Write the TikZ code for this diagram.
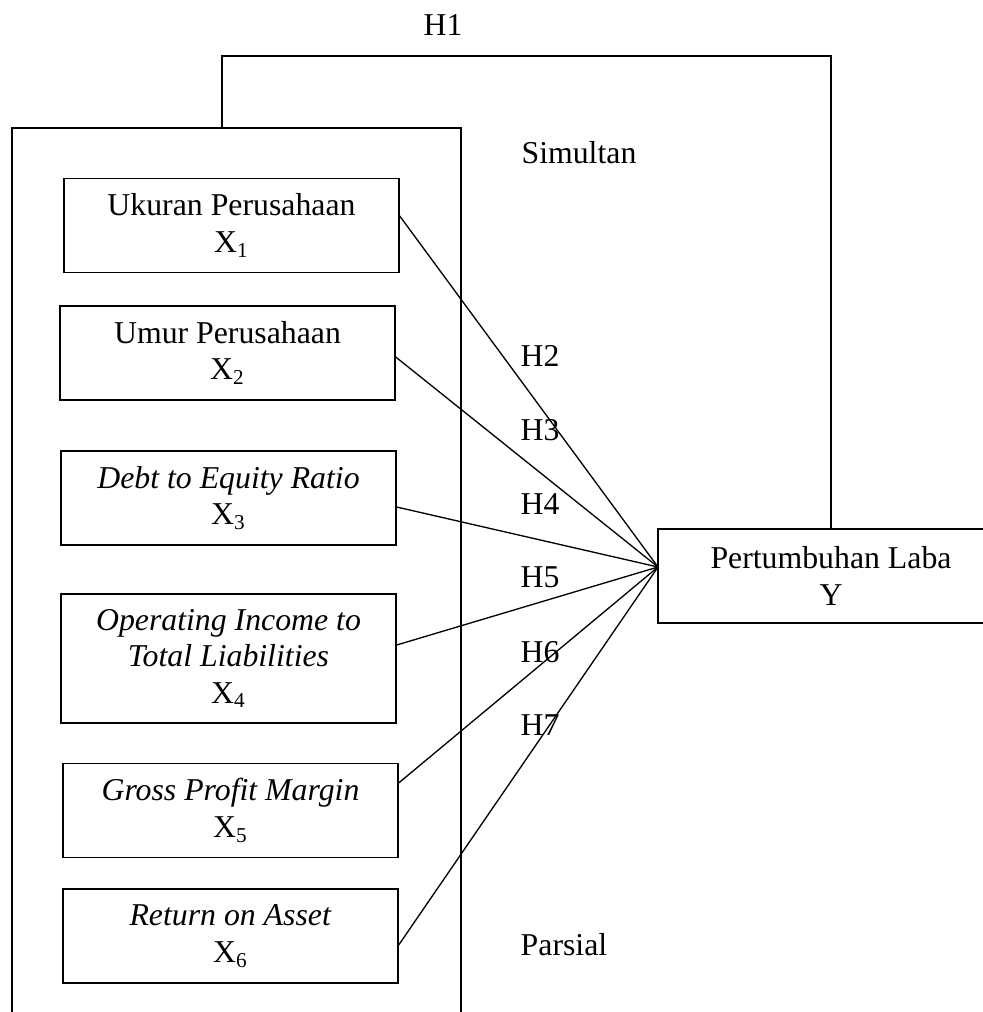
\documentclass[tikz,border=0pt]{standalone}
\usepackage{fontspec}
\setmainfont{Liberation Serif}
\usepackage{tikz}

\begin{document}
\begin{tikzpicture}[x=0.3775pt, y=-0.3775pt, line width=0.5pt,
    font=\fontsize{12}{13.8}\selectfont,
    varbox/.style={draw, align=center, inner sep=0pt, minimum width=126.5pt, minimum height=35.5pt}]

\useasboundingbox (0,0) rectangle (983,1012);

% outer frame, open at the bottom
\coordinate (fbl) at (12,1012);
\coordinate (ftl) at (12,128);
\coordinate (ftr) at (461,128);
\coordinate (fbr) at (461,1012);
\draw (fbl) -- (ftl) -- (ftr) -- (fbr);

\node [varbox] (x1) at (231.5,225.5) {Ukuran Perusahaan\\X\textsubscript{1}};
\node [varbox] (x2) at (227.5,353) {Umur Perusahaan\\X\textsubscript{2}};
\node [varbox] (x3) at (228.5,498) {\textit{Debt to Equity Ratio}\\X\textsubscript{3}};
\node [varbox, minimum height=48.7pt] (x4) at (228.5,658.5) {\textit{Operating Income to}\\\textit{Total Liabilities}\\X\textsubscript{4}};
\node [varbox] (x5) at (230.5,810.5) {\textit{Gross Profit Margin}\\X\textsubscript{5}};
\node [varbox] (x6) at (230.5,936) {\textit{Return on Asset}\\X\textsubscript{6}};

\node [varbox, minimum width=130.6pt] (y) at (831,576) {Pertumbuhan Laba\\Y};
\coordinate (hub) at (658,567);

% partial paths
\draw ([yshift=3.6pt]x1.east) -- (hub);
\draw ([yshift=-1.5pt]x2.east) -- (hub);
\draw ([yshift=-3.4pt]x3.east) -- (hub);
\draw ([yshift=5.1pt]x4.east) -- (hub);
\draw ([yshift=10.4pt]x5.east) -- (hub);
\draw ([yshift=-3.4pt]x6.east) -- (hub);

% simultaneous path
\coordinate (h1foot) at (222,128);
\draw (h1foot) -- ++(0,-72) -| (y.north);

\node (h1) at (443,25) {H1};
\node (sim) at (579,153) {Simultan};
\node (par) at (564,945) {Parsial};

\foreach \i/\yy in {2/356,3/430,4/504,5/577,6/652,7/725}
    \node (h\i) at (540,\yy) {H\i};

\end{tikzpicture}
\end{document}
